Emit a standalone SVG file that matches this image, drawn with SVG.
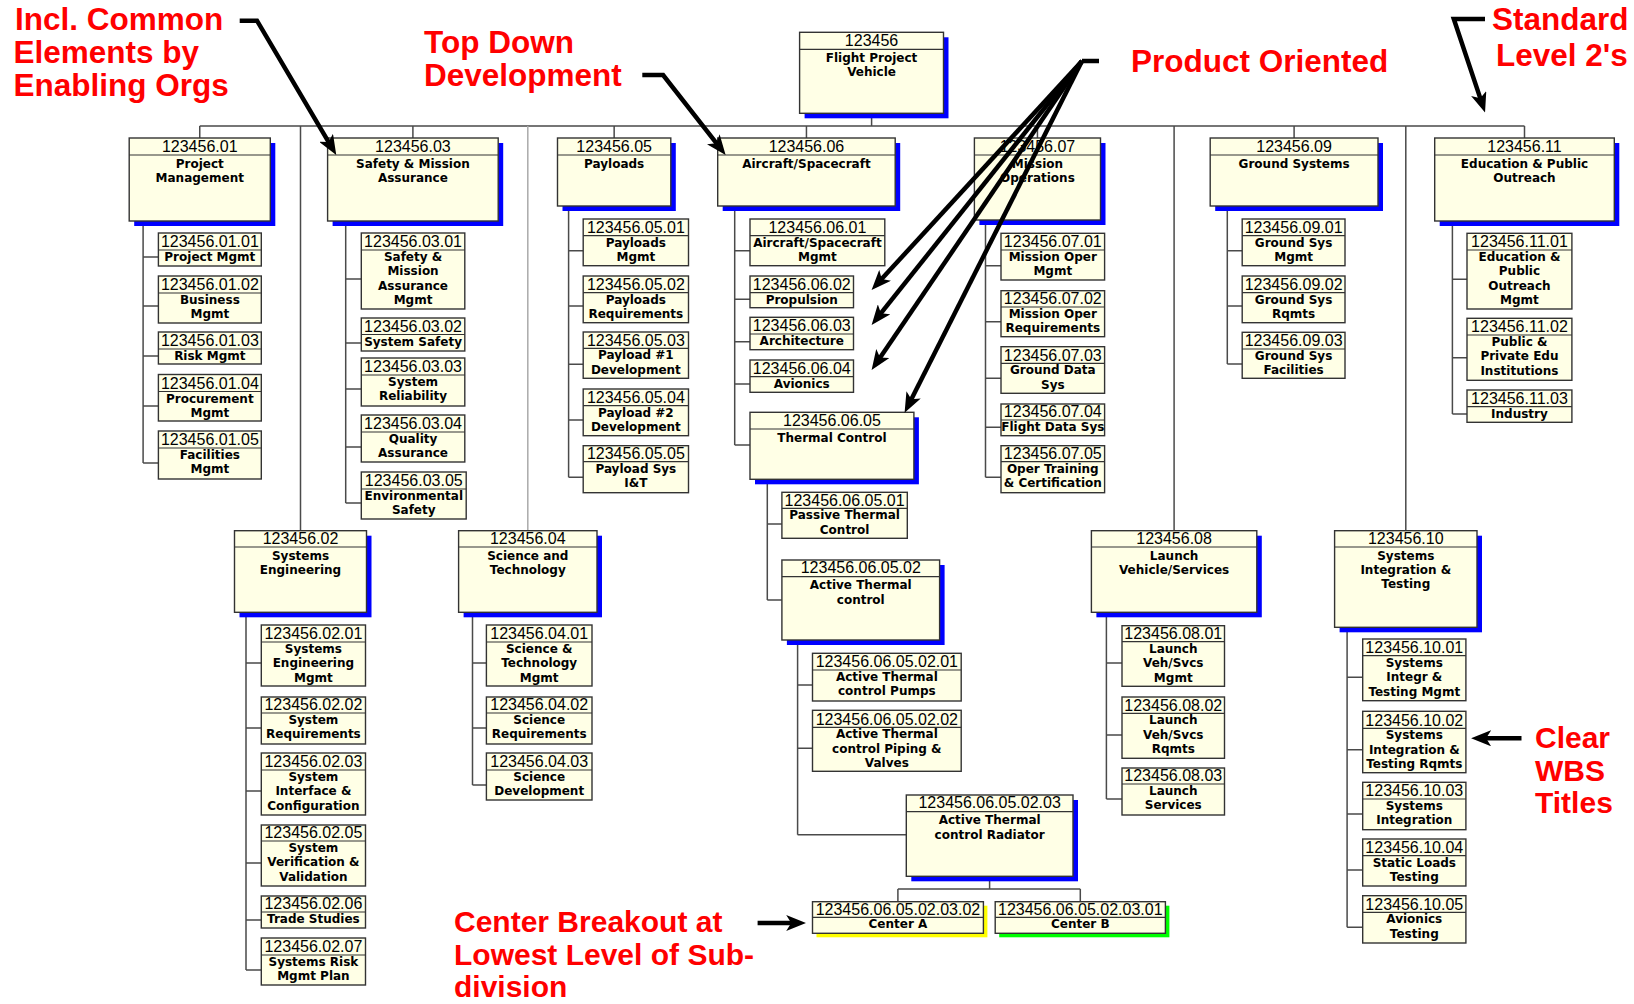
<svg xmlns="http://www.w3.org/2000/svg" width="1634" height="1004" viewBox="0 0 1634 1004">
<defs>
<style>
.bx{fill:#FFFFE6;stroke:#333;stroke-width:1.4}
.sh{fill:#0000FF}
.dv{stroke:#333;stroke-width:1.2}
.cd{font-family:"Liberation Sans",Arial,sans-serif;font-size:16px;text-anchor:middle;fill:#000}
.tx{font-family:"DejaVu Sans",Verdana,sans-serif;font-weight:bold;font-size:12px;text-anchor:middle;fill:#000}
.red{font-family:"Liberation Sans",Arial,sans-serif;font-weight:bold;font-size:31.5px;fill:#FF0000}
.red2{font-family:"Liberation Sans",Arial,sans-serif;font-weight:bold;font-size:30px;fill:#FF0000}
.w{stroke:#4a4a4a;stroke-width:1.5;fill:none}
.wl{stroke:#aaa;stroke-width:1.5;fill:none}
.ar{stroke:#000;stroke-width:4.5;fill:none;stroke-linejoin:miter;marker-end:url(#ah)}
</style>
<marker id="ah" viewBox="0 0 20 16" refX="12" refY="8" markerWidth="20" markerHeight="16" orient="auto" markerUnits="userSpaceOnUse">
<path d="M0,0 L20,8 L0,16 L5,8 z" fill="#000"/>
</marker>
</defs>
<rect x="0" y="0" width="1634" height="1004" fill="#FFFFFF"/>

<g id="connectors">
<path class="w" d="M871.6,113.3 V126 M199.75,126 H1524.5 M199.75,126 V138 M412.9,126 V138 M614.15,126 V138 M806.45,126 V138 M1037.45,126 V138 M1294.1,126 V138 M1524.5,126 V138"/>
<path class="w" d="M300.5,126 V530.7 M1174.1,126 V530.7 M1405.8,126 V530.7"/>
<path class="wl" d="M527.8,126 V530.7"/>
<path class="w" d="M143.1,221 V463 M143.1,257 H158.4 M143.1,306 H158.4 M143.1,356 H158.4 M143.1,406 H158.4 M143.1,463 H158.4"/>
<path class="w" d="M345.7,221 V503 M345.7,279 H361.3 M345.7,343 H361.3 M345.7,389 H361.3 M345.7,447 H361.3 M345.7,503 H361.3"/>
<path class="w" d="M246,612.3 V970 M246,663 H261.3 M246,728 H261.3 M246,791 H261.3 M246,863 H261.3 M246,920 H261.3 M246,970 H261.3"/>
<path class="w" d="M472.5,612.3 V785 M472.5,663 H486.4 M472.5,728 H486.4 M472.5,785 H486.4"/>
<path class="w" d="M568.6,206 V477.3 M568.6,250.7 H583.2 M568.6,306 H583.2 M568.6,364.3 H583.2 M568.6,420 H583.2 M568.6,477.3 H583.2"/>
<path class="w" d="M734.7,206 V445 M734.7,250.7 H750 M734.7,299.3 H750 M734.7,341.7 H750 M734.7,384 H750 M734.7,445 H750"/>
<path class="w" d="M767.3,479.3 V600 M767.3,524 H781.9 M767.3,600 H781.9"/>
<path class="w" d="M797.6,640 V834.7 M797.6,685 H812.5 M797.6,748.3 H812.5 M797.6,834.7 H906.3"/>
<path class="w" d="M989.6,876.3 V889 M897.9,889 H1080.3 M897.9,889 V901.7 M1080.3,889 V901.7"/>
<path class="w" d="M985.5,220 V477.3 M985.5,265.7 H1001 M985.5,321.7 H1001 M985.5,378.3 H1001 M985.5,427.3 H1001 M985.5,477.3 H1001"/>
<path class="w" d="M1227.3,206 V364 M1227.3,250.7 H1242.2 M1227.3,306 H1242.2 M1227.3,364 H1242.2"/>
<path class="w" d="M1452.4,221 V414 M1452.4,279.3 H1467 M1452.4,357.7 H1467 M1452.4,414 H1467"/>
<path class="w" d="M1106.4,612.3 V799 M1106.4,663 H1122 M1106.4,735 H1122 M1106.4,799 H1122"/>
<path class="w" d="M1347.1,627.3 V927.3 M1347.1,677.3 H1362.7 M1347.1,749.7 H1362.7 M1347.1,814 H1362.7 M1347.1,870 H1362.7 M1347.1,927.3 H1362.7"/>
</g>

<g id="wbs-root">
<rect class="sh" x="804.6" y="37.3" width="143.9" height="81"/>
<rect class="bx" x="799.6" y="32.3" width="143.9" height="81"/>
<line class="dv" x1="799.6" y1="49.3" x2="943.5" y2="49.3"/>
<text class="cd" x="871.55" y="46">123456</text>
<text class="tx" x="871.55" y="61.8">Flight Project</text>
<text class="tx" x="871.55" y="76.2">Vehicle</text>
</g>

<g id="wbs-01">
<rect class="sh" x="134.2" y="143" width="141.1" height="83"/>
<rect class="bx" x="129.2" y="138" width="141.1" height="83"/>
<line class="dv" x1="129.2" y1="155" x2="270.3" y2="155"/>
<text class="cd" x="199.75" y="151.7">123456.01</text>
<text class="tx" x="199.75" y="167.5">Project</text>
<text class="tx" x="199.75" y="181.9">Management</text>
</g>
<g id="wbs-03">
<rect class="sh" x="332.6" y="143" width="170.6" height="83"/>
<rect class="bx" x="327.6" y="138" width="170.6" height="83"/>
<line class="dv" x1="327.6" y1="155" x2="498.2" y2="155"/>
<text class="cd" x="412.9" y="151.7">123456.03</text>
<text class="tx" x="412.9" y="167.5">Safety &amp; Mission</text>
<text class="tx" x="412.9" y="181.9">Assurance</text>
</g>
<g id="wbs-05">
<rect class="sh" x="562.5" y="143" width="113.3" height="68"/>
<rect class="bx" x="557.5" y="138" width="113.3" height="68"/>
<line class="dv" x1="557.5" y1="155" x2="670.8" y2="155"/>
<text class="cd" x="614.15" y="151.7">123456.05</text>
<text class="tx" x="614.15" y="167.5">Payloads</text>
</g>
<g id="wbs-06">
<rect class="sh" x="722.7" y="143" width="177.5" height="68"/>
<rect class="bx" x="717.7" y="138" width="177.5" height="68"/>
<line class="dv" x1="717.7" y1="155" x2="895.2" y2="155"/>
<text class="cd" x="806.45" y="151.7">123456.06</text>
<text class="tx" x="806.45" y="167.5">Aircraft/Spacecraft</text>
</g>
<g id="wbs-07">
<rect class="sh" x="979.4" y="143" width="126.1" height="82"/>
<rect class="bx" x="974.4" y="138" width="126.1" height="82"/>
<line class="dv" x1="974.4" y1="155" x2="1100.5" y2="155"/>
<text class="cd" x="1037.45" y="151.7">123456.07</text>
<text class="tx" x="1037.45" y="167.5">Mission</text>
<text class="tx" x="1037.45" y="181.9">Operations</text>
</g>
<g id="wbs-09">
<rect class="sh" x="1215.2" y="143" width="167.8" height="68"/>
<rect class="bx" x="1210.2" y="138" width="167.8" height="68"/>
<line class="dv" x1="1210.2" y1="155" x2="1378" y2="155"/>
<text class="cd" x="1294.1" y="151.7">123456.09</text>
<text class="tx" x="1294.1" y="167.5">Ground Systems</text>
</g>
<g id="wbs-11">
<rect class="sh" x="1439.7" y="143" width="179.6" height="83"/>
<rect class="bx" x="1434.7" y="138" width="179.6" height="83"/>
<line class="dv" x1="1434.7" y1="155" x2="1614.3" y2="155"/>
<text class="cd" x="1524.5" y="151.7">123456.11</text>
<text class="tx" x="1524.5" y="167.5">Education &amp; Public</text>
<text class="tx" x="1524.5" y="181.9">Outreach</text>
</g>

<g id="wbs-02">
<rect class="sh" x="239.5" y="535.7" width="132" height="81.6"/>
<rect class="bx" x="234.5" y="530.7" width="132" height="81.6"/>
<line class="dv" x1="234.5" y1="547" x2="366.5" y2="547"/>
<text class="cd" x="300.5" y="543.7">123456.02</text>
<text class="tx" x="300.5" y="559.5">Systems</text>
<text class="tx" x="300.5" y="573.9">Engineering</text>
</g>
<g id="wbs-04">
<rect class="sh" x="463.6" y="535.7" width="138.4" height="81.6"/>
<rect class="bx" x="458.6" y="530.7" width="138.4" height="81.6"/>
<line class="dv" x1="458.6" y1="547" x2="597" y2="547"/>
<text class="cd" x="527.8" y="543.7">123456.04</text>
<text class="tx" x="527.8" y="559.5">Science and</text>
<text class="tx" x="527.8" y="573.9">Technology</text>
</g>
<g id="wbs-08">
<rect class="sh" x="1096.4" y="535.7" width="165.4" height="81.6"/>
<rect class="bx" x="1091.4" y="530.7" width="165.4" height="81.6"/>
<line class="dv" x1="1091.4" y1="547" x2="1256.8" y2="547"/>
<text class="cd" x="1174.1" y="543.7">123456.08</text>
<text class="tx" x="1174.1" y="559.5">Launch</text>
<text class="tx" x="1174.1" y="573.9">Vehicle/Services</text>
</g>
<g id="wbs-10">
<rect class="sh" x="1339.6" y="535.7" width="142.4" height="96.6"/>
<rect class="bx" x="1334.6" y="530.7" width="142.4" height="96.6"/>
<line class="dv" x1="1334.6" y1="547" x2="1477" y2="547"/>
<text class="cd" x="1405.8" y="543.7">123456.10</text>
<text class="tx" x="1405.8" y="559.5">Systems</text>
<text class="tx" x="1405.8" y="573.9">Integration &amp;</text>
<text class="tx" x="1405.8" y="588.3">Testing</text>
</g>

<g id="wbs-01-01"><rect class="bx" x="158.4" y="233" width="102.9" height="33"/><line class="dv" x1="158.4" y1="250" x2="261.3" y2="250"/><text class="cd" x="209.85" y="247.2">123456.01.01</text><text class="tx" x="209.85" y="261">Project Mgmt</text></g>
<g id="wbs-01-02"><rect class="bx" x="158.4" y="276" width="102.9" height="47"/><line class="dv" x1="158.4" y1="293" x2="261.3" y2="293"/><text class="cd" x="209.85" y="290.2">123456.01.02</text><text class="tx" x="209.85" y="304">Business</text><text class="tx" x="209.85" y="318.4">Mgmt</text></g>
<g id="wbs-01-03"><rect class="bx" x="158.4" y="332" width="102.9" height="32"/><line class="dv" x1="158.4" y1="349" x2="261.3" y2="349"/><text class="cd" x="209.85" y="346.2">123456.01.03</text><text class="tx" x="209.85" y="360">Risk Mgmt</text></g>
<g id="wbs-01-04"><rect class="bx" x="158.4" y="374.5" width="102.9" height="46.5"/><line class="dv" x1="158.4" y1="391.5" x2="261.3" y2="391.5"/><text class="cd" x="209.85" y="388.7">123456.01.04</text><text class="tx" x="209.85" y="402.5">Procurement</text><text class="tx" x="209.85" y="416.9">Mgmt</text></g>
<g id="wbs-01-05"><rect class="bx" x="158.4" y="431" width="102.9" height="48"/><line class="dv" x1="158.4" y1="448" x2="261.3" y2="448"/><text class="cd" x="209.85" y="445.2">123456.01.05</text><text class="tx" x="209.85" y="459">Facilities</text><text class="tx" x="209.85" y="473.4">Mgmt</text></g>

<g id="wbs-03-01"><rect class="bx" x="361.3" y="233" width="103.5" height="76"/><line class="dv" x1="361.3" y1="250" x2="464.8" y2="250"/><text class="cd" x="413.05" y="247.2">123456.03.01</text><text class="tx" x="413.05" y="261">Safety &amp;</text><text class="tx" x="413.05" y="275.4">Mission</text><text class="tx" x="413.05" y="289.8">Assurance</text><text class="tx" x="413.05" y="304.2">Mgmt</text></g>
<g id="wbs-03-02"><rect class="bx" x="361.3" y="318" width="103.5" height="33"/><line class="dv" x1="361.3" y1="334.5" x2="464.8" y2="334.5"/><text class="cd" x="413.05" y="331.7">123456.03.02</text><text class="tx" x="413.05" y="345.5">System Safety</text></g>
<g id="wbs-03-03"><rect class="bx" x="361.3" y="358" width="103.5" height="48"/><line class="dv" x1="361.3" y1="375" x2="464.8" y2="375"/><text class="cd" x="413.05" y="372.2">123456.03.03</text><text class="tx" x="413.05" y="386">System</text><text class="tx" x="413.05" y="400.4">Reliability</text></g>
<g id="wbs-03-04"><rect class="bx" x="361.3" y="415" width="103.5" height="47"/><line class="dv" x1="361.3" y1="432" x2="464.8" y2="432"/><text class="cd" x="413.05" y="429.2">123456.03.04</text><text class="tx" x="413.05" y="443">Quality</text><text class="tx" x="413.05" y="457.4">Assurance</text></g>
<g id="wbs-03-05"><rect class="bx" x="361.3" y="472" width="104.9" height="47"/><line class="dv" x1="361.3" y1="489" x2="466.2" y2="489"/><text class="cd" x="413.75" y="486.2">123456.03.05</text><text class="tx" x="413.75" y="500">Environmental</text><text class="tx" x="413.75" y="514.4">Safety</text></g>

<g id="wbs-02-01"><rect class="bx" x="261.3" y="625" width="104.2" height="61"/><line class="dv" x1="261.3" y1="642" x2="365.5" y2="642"/><text class="cd" x="313.4" y="639.2">123456.02.01</text><text class="tx" x="313.4" y="653">Systems</text><text class="tx" x="313.4" y="667.4">Engineering</text><text class="tx" x="313.4" y="681.8">Mgmt</text></g>
<g id="wbs-02-02"><rect class="bx" x="261.3" y="697" width="104.2" height="47"/><line class="dv" x1="261.3" y1="713" x2="365.5" y2="713"/><text class="cd" x="313.4" y="710.2">123456.02.02</text><text class="tx" x="313.4" y="724">System</text><text class="tx" x="313.4" y="738.4">Requirements</text></g>
<g id="wbs-02-03"><rect class="bx" x="261.3" y="753" width="104.2" height="62"/><line class="dv" x1="261.3" y1="770" x2="365.5" y2="770"/><text class="cd" x="313.4" y="767.2">123456.02.03</text><text class="tx" x="313.4" y="781">System</text><text class="tx" x="313.4" y="795.4">Interface &amp;</text><text class="tx" x="313.4" y="809.8">Configuration</text></g>
<g id="wbs-02-05"><rect class="bx" x="261.3" y="825" width="104.2" height="61"/><line class="dv" x1="261.3" y1="841" x2="365.5" y2="841"/><text class="cd" x="313.4" y="838.2">123456.02.05</text><text class="tx" x="313.4" y="852">System</text><text class="tx" x="313.4" y="866.4">Verification &amp;</text><text class="tx" x="313.4" y="880.8">Validation</text></g>
<g id="wbs-02-06"><rect class="bx" x="261.3" y="896" width="104.2" height="32"/><line class="dv" x1="261.3" y1="912" x2="365.5" y2="912"/><text class="cd" x="313.4" y="909.2">123456.02.06</text><text class="tx" x="313.4" y="923">Trade Studies</text></g>
<g id="wbs-02-07"><rect class="bx" x="261.3" y="938" width="104.2" height="47"/><line class="dv" x1="261.3" y1="955" x2="365.5" y2="955"/><text class="cd" x="313.4" y="952.2">123456.02.07</text><text class="tx" x="313.4" y="966">Systems Risk</text><text class="tx" x="313.4" y="980.4">Mgmt Plan</text></g>

<g id="wbs-04-01"><rect class="bx" x="486.4" y="625" width="105.6" height="61"/><line class="dv" x1="486.4" y1="642" x2="592" y2="642"/><text class="cd" x="539.2" y="639.2">123456.04.01</text><text class="tx" x="539.2" y="653">Science &amp;</text><text class="tx" x="539.2" y="667.4">Technology</text><text class="tx" x="539.2" y="681.8">Mgmt</text></g>
<g id="wbs-04-02"><rect class="bx" x="486.4" y="697" width="105.6" height="47"/><line class="dv" x1="486.4" y1="713" x2="592" y2="713"/><text class="cd" x="539.2" y="710.2">123456.04.02</text><text class="tx" x="539.2" y="724">Science</text><text class="tx" x="539.2" y="738.4">Requirements</text></g>
<g id="wbs-04-03"><rect class="bx" x="486.4" y="753" width="105.6" height="47"/><line class="dv" x1="486.4" y1="770" x2="592" y2="770"/><text class="cd" x="539.2" y="767.2">123456.04.03</text><text class="tx" x="539.2" y="781">Science</text><text class="tx" x="539.2" y="795.4">Development</text></g>

<g id="wbs-05-01"><rect class="bx" x="583.2" y="219" width="105.3" height="46.7"/><line class="dv" x1="583.2" y1="235.7" x2="688.5" y2="235.7"/><text class="cd" x="635.85" y="232.9">123456.05.01</text><text class="tx" x="635.85" y="246.7">Payloads</text><text class="tx" x="635.85" y="261.1">Mgmt</text></g>
<g id="wbs-05-02"><rect class="bx" x="583.2" y="276" width="105.3" height="46.7"/><line class="dv" x1="583.2" y1="292.7" x2="688.5" y2="292.7"/><text class="cd" x="635.85" y="289.9">123456.05.02</text><text class="tx" x="635.85" y="303.7">Payloads</text><text class="tx" x="635.85" y="318.1">Requirements</text></g>
<g id="wbs-05-03"><rect class="bx" x="583.2" y="332" width="105.3" height="46.3"/><line class="dv" x1="583.2" y1="348.3" x2="688.5" y2="348.3"/><text class="cd" x="635.85" y="345.5">123456.05.03</text><text class="tx" x="635.85" y="359.3">Payload #1</text><text class="tx" x="635.85" y="373.7">Development</text></g>
<g id="wbs-05-04"><rect class="bx" x="583.2" y="389" width="105.3" height="46.7"/><line class="dv" x1="583.2" y1="405.7" x2="688.5" y2="405.7"/><text class="cd" x="635.85" y="402.9">123456.05.04</text><text class="tx" x="635.85" y="416.7">Payload #2</text><text class="tx" x="635.85" y="431.1">Development</text></g>
<g id="wbs-05-05"><rect class="bx" x="583.2" y="445.7" width="105.3" height="47"/><line class="dv" x1="583.2" y1="461.7" x2="688.5" y2="461.7"/><text class="cd" x="635.85" y="458.9">123456.05.05</text><text class="tx" x="635.85" y="472.7">Payload Sys</text><text class="tx" x="635.85" y="487.1">I&amp;T</text></g>

<g id="wbs-06-01"><rect class="bx" x="750" y="219" width="134.8" height="46.7"/><line class="dv" x1="750" y1="235.7" x2="884.8" y2="235.7"/><text class="cd" x="817.4" y="232.9">123456.06.01</text><text class="tx" x="817.4" y="246.7">Aircraft/Spacecraft</text><text class="tx" x="817.4" y="261.1">Mgmt</text></g>
<g id="wbs-06-02"><rect class="bx" x="750" y="276" width="103.5" height="31.7"/><line class="dv" x1="750" y1="292.7" x2="853.5" y2="292.7"/><text class="cd" x="801.75" y="289.9">123456.06.02</text><text class="tx" x="801.75" y="303.7">Propulsion</text></g>
<g id="wbs-06-03"><rect class="bx" x="750" y="317.3" width="103.5" height="32.4"/><line class="dv" x1="750" y1="334" x2="853.5" y2="334"/><text class="cd" x="801.75" y="331.2">123456.06.03</text><text class="tx" x="801.75" y="345">Architecture</text></g>
<g id="wbs-06-04"><rect class="bx" x="750" y="360" width="103.5" height="32.3"/><line class="dv" x1="750" y1="376.7" x2="853.5" y2="376.7"/><text class="cd" x="801.75" y="373.9">123456.06.04</text><text class="tx" x="801.75" y="387.7">Avionics</text></g>
<g id="wbs-06-05">
<rect class="sh" x="755" y="417.3" width="163.9" height="67"/>
<rect class="bx" x="750" y="412.3" width="163.9" height="67"/>
<line class="dv" x1="750" y1="429" x2="913.9" y2="429"/>
<text class="cd" x="831.95" y="425.7">123456.06.05</text>
<text class="tx" x="831.95" y="441.5">Thermal Control</text>
</g>
<g id="wbs-06-05-01"><rect class="bx" x="781.9" y="492.3" width="125.4" height="46"/><line class="dv" x1="781.9" y1="508.3" x2="907.3" y2="508.3"/><text class="cd" x="844.6" y="505.5">123456.06.05.01</text><text class="tx" x="844.6" y="519.3">Passive Thermal</text><text class="tx" x="844.6" y="533.7">Control</text></g>
<g id="wbs-06-05-02">
<rect class="sh" x="786.9" y="565" width="157.7" height="80"/>
<rect class="bx" x="781.9" y="560" width="157.7" height="80"/>
<line class="dv" x1="781.9" y1="576.7" x2="939.6" y2="576.7"/>
<text class="cd" x="860.75" y="573.4">123456.06.05.02</text>
<text class="tx" x="860.75" y="589.2">Active Thermal</text>
<text class="tx" x="860.75" y="603.6">control</text>
</g>
<g id="wbs-06-05-02-01"><rect class="bx" x="812.5" y="653.3" width="148.7" height="47.7"/><line class="dv" x1="812.5" y1="670" x2="961.2" y2="670"/><text class="cd" x="886.85" y="667.2">123456.06.05.02.01</text><text class="tx" x="886.85" y="681">Active Thermal</text><text class="tx" x="886.85" y="695.4">control Pumps</text></g>
<g id="wbs-06-05-02-02"><rect class="bx" x="812.5" y="710.3" width="148.7" height="61"/><line class="dv" x1="812.5" y1="727.3" x2="961.2" y2="727.3"/><text class="cd" x="886.85" y="724.5">123456.06.05.02.02</text><text class="tx" x="886.85" y="738.3">Active Thermal</text><text class="tx" x="886.85" y="752.7">control Piping &amp;</text><text class="tx" x="886.85" y="767.1">Valves</text></g>
<g id="wbs-06-05-02-03">
<rect class="sh" x="911.3" y="800" width="166.7" height="81.3"/>
<rect class="bx" x="906.3" y="795" width="166.7" height="81.3"/>
<line class="dv" x1="906.3" y1="811.7" x2="1073" y2="811.7"/>
<text class="cd" x="989.65" y="808.4">123456.06.05.02.03</text>
<text class="tx" x="989.65" y="824.2">Active Thermal</text>
<text class="tx" x="989.65" y="838.6">control Radiator</text>
</g>
<g id="wbs-06-05-02-03-02">
<rect x="816.5" y="905.7" width="170.9" height="31.6" fill="#FFFF00"/>
<rect class="bx" x="812.5" y="901.7" width="170.9" height="31.6"/>
<line class="dv" x1="812.5" y1="917.3" x2="983.4" y2="917.3"/>
<text class="cd" x="897.95" y="914.5">123456.06.05.02.03.02</text>
<text class="tx" x="897.95" y="928.3">Center A</text>
</g>
<g id="wbs-06-05-02-03-01">
<rect x="999.2" y="905.7" width="170.2" height="31.6" fill="#00FF00"/>
<rect class="bx" x="995.2" y="901.7" width="170.2" height="31.6"/>
<line class="dv" x1="995.2" y1="917.3" x2="1165.4" y2="917.3"/>
<text class="cd" x="1080.3" y="914.5">123456.06.05.02.03.01</text>
<text class="tx" x="1080.3" y="928.3">Center B</text>
</g>

<g id="wbs-07-01"><rect class="bx" x="1001" y="233.3" width="103.6" height="46.7"/><line class="dv" x1="1001" y1="250" x2="1104.6" y2="250"/><text class="cd" x="1052.8" y="247.2">123456.07.01</text><text class="tx" x="1052.8" y="261">Mission Oper</text><text class="tx" x="1052.8" y="275.4">Mgmt</text></g>
<g id="wbs-07-02"><rect class="bx" x="1001" y="290.7" width="103.6" height="46"/><line class="dv" x1="1001" y1="307" x2="1104.6" y2="307"/><text class="cd" x="1052.8" y="304.2">123456.07.02</text><text class="tx" x="1052.8" y="318">Mission Oper</text><text class="tx" x="1052.8" y="332.4">Requirements</text></g>
<g id="wbs-07-03"><rect class="bx" x="1001" y="346.7" width="103.6" height="46.6"/><line class="dv" x1="1001" y1="363.3" x2="1104.6" y2="363.3"/><text class="cd" x="1052.8" y="360.5">123456.07.03</text><text class="tx" x="1052.8" y="374.3">Ground Data</text><text class="tx" x="1052.8" y="388.7">Sys</text></g>
<g id="wbs-07-04"><rect class="bx" x="1001" y="404" width="103.6" height="31.7"/><line class="dv" x1="1001" y1="420" x2="1104.6" y2="420"/><text class="cd" x="1052.8" y="417.2">123456.07.04</text><text class="tx" x="1052.8" y="431">Flight Data Sys</text></g>
<g id="wbs-07-05"><rect class="bx" x="1001" y="445.7" width="103.6" height="47"/><line class="dv" x1="1001" y1="461.7" x2="1104.6" y2="461.7"/><text class="cd" x="1052.8" y="458.9">123456.07.05</text><text class="tx" x="1052.8" y="472.7">Oper Training</text><text class="tx" x="1052.8" y="487.1">&amp; Certification</text></g>

<g id="wbs-09-01"><rect class="bx" x="1242.2" y="219" width="102.8" height="46.7"/><line class="dv" x1="1242.2" y1="235.7" x2="1345" y2="235.7"/><text class="cd" x="1293.6" y="232.9">123456.09.01</text><text class="tx" x="1293.6" y="246.7">Ground Sys</text><text class="tx" x="1293.6" y="261.1">Mgmt</text></g>
<g id="wbs-09-02"><rect class="bx" x="1242.2" y="276" width="102.8" height="46.7"/><line class="dv" x1="1242.2" y1="292.7" x2="1345" y2="292.7"/><text class="cd" x="1293.6" y="289.9">123456.09.02</text><text class="tx" x="1293.6" y="303.7">Ground Sys</text><text class="tx" x="1293.6" y="318.1">Rqmts</text></g>
<g id="wbs-09-03"><rect class="bx" x="1242.2" y="332.3" width="102.8" height="46"/><line class="dv" x1="1242.2" y1="349" x2="1345" y2="349"/><text class="cd" x="1293.6" y="346.2">123456.09.03</text><text class="tx" x="1293.6" y="360">Ground Sys</text><text class="tx" x="1293.6" y="374.4">Facilities</text></g>

<g id="wbs-11-01"><rect class="bx" x="1467" y="233.3" width="104.9" height="75.7"/><line class="dv" x1="1467" y1="250" x2="1571.9" y2="250"/><text class="cd" x="1519.45" y="247.2">123456.11.01</text><text class="tx" x="1519.45" y="261">Education &amp;</text><text class="tx" x="1519.45" y="275.4">Public</text><text class="tx" x="1519.45" y="289.8">Outreach</text><text class="tx" x="1519.45" y="304.2">Mgmt</text></g>
<g id="wbs-11-02"><rect class="bx" x="1467" y="318.3" width="104.9" height="62"/><line class="dv" x1="1467" y1="335" x2="1571.9" y2="335"/><text class="cd" x="1519.45" y="332.2">123456.11.02</text><text class="tx" x="1519.45" y="346">Public &amp;</text><text class="tx" x="1519.45" y="360.4">Private Edu</text><text class="tx" x="1519.45" y="374.8">Institutions</text></g>
<g id="wbs-11-03"><rect class="bx" x="1467" y="390" width="104.9" height="32.3"/><line class="dv" x1="1467" y1="406.7" x2="1571.9" y2="406.7"/><text class="cd" x="1519.45" y="403.9">123456.11.03</text><text class="tx" x="1519.45" y="417.7">Industry</text></g>

<g id="wbs-08-01"><rect class="bx" x="1122" y="625.7" width="102.5" height="60.6"/><line class="dv" x1="1122" y1="641.7" x2="1224.5" y2="641.7"/><text class="cd" x="1173.25" y="638.9">123456.08.01</text><text class="tx" x="1173.25" y="652.7">Launch</text><text class="tx" x="1173.25" y="667.1">Veh/Svcs</text><text class="tx" x="1173.25" y="681.5">Mgmt</text></g>
<g id="wbs-08-02"><rect class="bx" x="1122" y="697" width="102.5" height="61.3"/><line class="dv" x1="1122" y1="713.3" x2="1224.5" y2="713.3"/><text class="cd" x="1173.25" y="710.5">123456.08.02</text><text class="tx" x="1173.25" y="724.3">Launch</text><text class="tx" x="1173.25" y="738.7">Veh/Svcs</text><text class="tx" x="1173.25" y="753.1">Rqmts</text></g>
<g id="wbs-08-03"><rect class="bx" x="1122" y="768" width="102.5" height="47"/><line class="dv" x1="1122" y1="784" x2="1224.5" y2="784"/><text class="cd" x="1173.25" y="781.2">123456.08.03</text><text class="tx" x="1173.25" y="795">Launch</text><text class="tx" x="1173.25" y="809.4">Services</text></g>

<g id="wbs-10-01"><rect class="bx" x="1362.7" y="639" width="103.2" height="61.7"/><line class="dv" x1="1362.7" y1="655.7" x2="1465.9" y2="655.7"/><text class="cd" x="1414.3" y="652.9">123456.10.01</text><text class="tx" x="1414.3" y="666.7">Systems</text><text class="tx" x="1414.3" y="681.1">Integr &amp;</text><text class="tx" x="1414.3" y="695.5">Testing Mgmt</text></g>
<g id="wbs-10-02"><rect class="bx" x="1362.7" y="711.3" width="103.2" height="61.4"/><line class="dv" x1="1362.7" y1="728.3" x2="1465.9" y2="728.3"/><text class="cd" x="1414.3" y="725.5">123456.10.02</text><text class="tx" x="1414.3" y="739.3">Systems</text><text class="tx" x="1414.3" y="753.7">Integration &amp;</text><text class="tx" x="1414.3" y="768.1">Testing Rqmts</text></g>
<g id="wbs-10-03"><rect class="bx" x="1362.7" y="782.3" width="103.2" height="47.4"/><line class="dv" x1="1362.7" y1="799" x2="1465.9" y2="799"/><text class="cd" x="1414.3" y="796.2">123456.10.03</text><text class="tx" x="1414.3" y="810">Systems</text><text class="tx" x="1414.3" y="824.4">Integration</text></g>
<g id="wbs-10-04"><rect class="bx" x="1362.7" y="839" width="103.2" height="47"/><line class="dv" x1="1362.7" y1="855.7" x2="1465.9" y2="855.7"/><text class="cd" x="1414.3" y="852.9">123456.10.04</text><text class="tx" x="1414.3" y="866.7">Static Loads</text><text class="tx" x="1414.3" y="881.1">Testing</text></g>
<g id="wbs-10-05"><rect class="bx" x="1362.7" y="895.7" width="103.2" height="47.3"/><line class="dv" x1="1362.7" y1="912.3" x2="1465.9" y2="912.3"/><text class="cd" x="1414.3" y="909.5">123456.10.05</text><text class="tx" x="1414.3" y="923.3">Avionics</text><text class="tx" x="1414.3" y="937.7">Testing</text></g>

<g id="callouts">
<text class="red" x="15" y="30">Incl. Common</text>
<text class="red" x="13.5" y="63">Elements by</text>
<text class="red" x="13.5" y="96">Enabling Orgs</text>
<text class="red" x="424" y="53">Top Down</text>
<text class="red" x="424" y="86">Development</text>
<text class="red" x="1131" y="72">Product Oriented</text>
<text class="red" x="1492" y="29.5">Standard</text>
<text class="red" x="1496" y="66">Level 2's</text>
<text class="red2" x="1535" y="748">Clear</text>
<text class="red2" x="1535" y="780.5">WBS</text>
<text class="red2" x="1535" y="813">Titles</text>
<text class="red2" x="454" y="932">Center Breakout at</text>
<text class="red2" x="454" y="964.5">Lowest Level of Sub-</text>
<text class="red2" x="454" y="997">division</text>
<path class="ar" d="M239.7,20.7 H257 L332.2,148.1"/>
<path class="ar" d="M642.3,75 H663.1 L720.7,148.7"/>
<path d="M1099,61 H1082" stroke="#000" stroke-width="4.5"/>
<path class="ar" d="M1082,61 L877,284.1"/>
<path class="ar" d="M1082,61 L876.6,318.7"/>
<path class="ar" d="M1082,61 L876.1,363.4"/>
<path class="ar" d="M1082,61 L908.2,405.6"/>
<path class="ar" d="M1485,19 H1453.8 L1482.5,104.9"/>
<path class="ar" d="M1521.5,738.3 H1479.1"/>
<path class="ar" d="M757.6,923 H798.2"/>
</g>
</svg>
